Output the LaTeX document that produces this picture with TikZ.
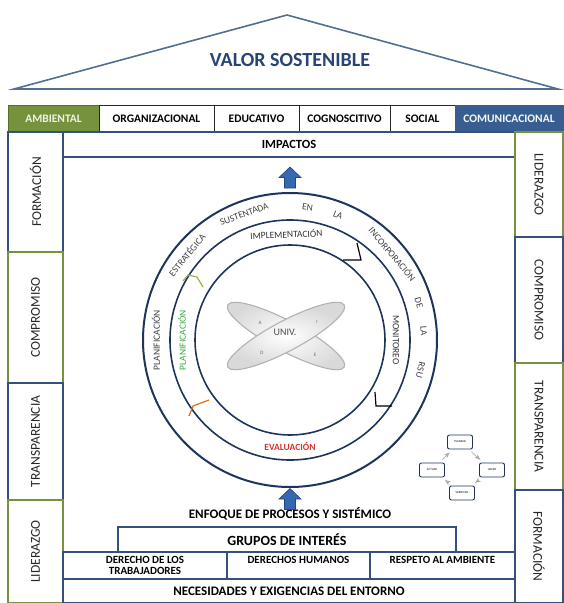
\documentclass[tikz,border=0pt]{standalone}
\usepackage{fontspec}
\setmainfont{Carlito}
\usepackage{xcolor}
\usepackage{tikz}
\usetikzlibrary{positioning}
\usetikzlibrary{arrows.meta}

\definecolor{navy}{RGB}{52,80,124}
\definecolor{olive}{RGB}{118,146,60}
\definecolor{olivedark}{RGB}{88,110,42}
\definecolor{roofblue}{RGB}{82,110,145}
\definecolor{titleblue}{RGB}{40,68,118}
\definecolor{comblue}{RGB}{56,94,145}
\definecolor{ringblue}{RGB}{30,52,92}
\definecolor{arrowblue}{RGB}{52,104,176}
\definecolor{arrowdark}{RGB}{36,70,128}
\definecolor{plangreen}{RGB}{60,165,70}
\definecolor{evalred}{RGB}{215,50,50}
\definecolor{markgreen}{RGB}{150,180,70}
\definecolor{markorange}{RGB}{228,108,10}

\begin{document}
\begin{tikzpicture}[
  x=1pt, y=1pt,
  roof/.style={draw=roofblue, line width=1.6pt, line join=miter},
  catbox/.style={draw=black!85, line width=0.9pt, outer sep=0pt, inner sep=0pt, minimum height=27pt, font=\bfseries\fontsize{11.5}{13}\selectfont},
  colbox/.style={draw=navy, line width=1.2pt, outer sep=0pt, inner sep=0pt, text=black!85, font=\fontsize{13.5}{15}\selectfont},
  strip/.style={draw=navy, line width=1.1pt, outer sep=0pt, inner sep=0pt},
  rowcell/.style={strip, minimum height=27pt, align=center, font=\bfseries\fontsize{11}{11}\selectfont},
  ring/.style={draw=ringblue, line width=1.6pt},
  ringword/.style={font=\fontsize{9.5}{10}\selectfont, text=black!75, inner sep=0pt},
  phase/.style={font=\fontsize{9.5}{10}\selectfont, text=black!80, inner sep=0pt},
  phasemark/.style={line width=1.2pt, line join=miter},
  blade/.style={draw=gray!60, line width=1.1pt, inner color=white, outer color=gray!30},
  pdca/.style={draw=ringblue, line width=0.9pt, rounded corners=2pt, minimum width=25pt, minimum height=14pt, inner sep=0pt, font=\fontsize{3}{3.5}\selectfont},
  cyc/.style={-Stealth, draw=gray!65, line width=0.7pt, shorten >=4pt, shorten <=4pt},
  blockarrow/.style={fill=arrowblue, draw=arrowdark, line width=0.6pt, line join=miter}
]
\useasboundingbox (0,0) rectangle (563,-603);

% Roof
\draw[roof] (14,-89) -- (287,-15) -- (558,-89) -- cycle;
\node[font=\bfseries\fontsize{20}{22}\selectfont, text=titleblue] (valor) at (290,-60) {VALOR SOSTENIBLE};

% Row of dimensions
\node[catbox, fill=olive, draw=olivedark, text=white!88!olive, minimum width=91pt, anchor=north west] (ambiental) at (8,-105) {AMBIENTAL};
\node[catbox, minimum width=115pt, right=0pt of ambiental] (organizacional) {ORGANIZACIONAL};
\node[catbox, minimum width=85pt, right=0pt of organizacional] (educativo) {EDUCATIVO};
\node[catbox, minimum width=91pt, right=0pt of educativo] (cognoscitivo) {COGNOSCITIVO};
\node[catbox, minimum width=65pt, right=0pt of cognoscitivo] (social) {SOCIAL};
\node[catbox, fill=comblue, draw=comblue, text=white!95!comblue, minimum width=108pt, right=0pt of social] (comunicacional) {COMUNICACIONAL};

% Inner house
\node[strip, minimum width=452pt, minimum height=471pt, anchor=north west] (inner) at (63,-132) {};
\node[strip, minimum width=452pt, minimum height=25pt, anchor=north west, font=\bfseries\fontsize{12.5}{14}\selectfont] (impactos) at (63,-132) {IMPACTOS};

% Left pillars
\node[colbox, minimum width=55pt, minimum height=120pt, anchor=north west] (lformacion) at (8,-132) {\rotatebox{90}{FORMACIÓN}};
\node[colbox, draw=olive, minimum width=55pt, minimum height=131pt, below=0pt of lformacion] (lcompromiso) {\rotatebox{90}{COMPROMISO}};
\node[colbox, minimum width=55pt, minimum height=117pt, below=0pt of lcompromiso] (ltransparencia) {\rotatebox{90}{TRANSPARENCIA}};
\node[colbox, draw=olive, minimum width=55pt, minimum height=103pt, below=0pt of ltransparencia] (lliderazgo) {\rotatebox{90}{LIDERAZGO}};

% Right pillars
\node[colbox, draw=olive, minimum width=48pt, minimum height=105pt, anchor=north west] (rliderazgo) at (515,-132) {\rotatebox{-90}{LIDERAZGO}};
\node[colbox, minimum width=48pt, minimum height=126pt, below=0pt of rliderazgo] (rcompromiso) {\rotatebox{-90}{COMPROMISO}};
\node[colbox, draw=olive, minimum width=48pt, minimum height=127pt, below=0pt of rcompromiso] (rtransparencia) {\rotatebox{-90}{TRANSPARENCIA}};
\node[colbox, minimum width=48pt, minimum height=113pt, below=0pt of rtransparencia] (rformacion) {\rotatebox{-90}{FORMACIÓN}};

% Foundation rows
\node[strip, minimum width=452pt, minimum height=24pt, anchor=south west, font=\bfseries\fontsize{13}{15}\selectfont] (necesidades) at (63,-603) {NECESIDADES Y EXIGENCIAS DEL ENTORNO};
\node[rowcell, minimum width=164pt, anchor=south west] (trabajadores) at (necesidades.north west) {DERECHO DE LOS\\TRABAJADORES};
\node[rowcell, minimum width=143pt, text depth=11pt, right=0pt of trabajadores] (humanos) {DERECHOS HUMANOS};
\node[rowcell, minimum width=145pt, text depth=11pt, right=0pt of humanos] (respeto) {RESPETO AL AMBIENTE};
\node[strip, minimum width=338pt, minimum height=25pt, anchor=south west, font=\bfseries\fontsize{14}{16}\selectfont] (grupos) at (118,-552) {GRUPOS DE INTERÉS};
\node[font=\bfseries\fontsize{13}{15}\selectfont] (enfoque) at (290,-514) {ENFOQUE DE PROCESOS Y SISTÉMICO};

% Block arrows (up)
\filldraw[blockarrow, shift={(290,-177.5)}] (-5.5,-10.5) -- (-5.5,0) -- (-11,0) -- (0,10.5) -- (11,0) -- (5.5,0) -- (5.5,-10.5) -- cycle;
\filldraw[blockarrow, shift={(290,-499)}] (-5.5,-10.5) -- (-5.5,0) -- (-11,0) -- (0,10.5) -- (11,0) -- (5.5,0) -- (5.5,-10.5) -- cycle;

% Cycle rings
\begin{scope}[shift={(290,-340)}]
  \draw[ring, line width=2pt] (0,0) circle[radius=147pt];
  \draw[ring] (0,0) circle[radius=120pt];
  \draw[ring] (0,0) circle[radius=95pt];

  % Outer band words
  \node[ringword, rotate=90] (wplanif) at (180:134) {PLANIFICACIÓN};
  \node[ringword, rotate=50.5] (westrat) at (140.5:134) {ESTRATÉGICA};
  \node[ringword, rotate=20] (wsusten) at (110:134) {SUSTENTADA};
  \node[ringword, rotate=-7.5] (wen) at (82.5:134) {EN};
  \node[ringword, rotate=-21] (wla) at (69:134) {LA};
  \node[ringword, rotate=-50] (wincorp) at (40:134) {INCORPORACIÓN};
  \node[ringword, rotate=-74] (wde) at (16:134) {DE};
  \node[ringword, rotate=-86] (wlarsu) at (4:134) {LA};
  \node[ringword, rotate=-103] (wrsu) at (-13:134) {RSU};

  % Inner band phases
  \node[phase, rotate=2] (implementacion) at (92:106) {IMPLEMENTACIÓN};
  \node[phase, rotate=90, text=plangreen] (planificacion) at (180:108) {PLANIFICACIÓN};
  \node[phase, rotate=-90] (monitoreo) at (0:106) {MONITOREO};
  \node[phase, text=evalred, font=\bfseries\fontsize{9.5}{10}\selectfont] (evaluacion) at (-90:107) {EVALUACIÓN};
\end{scope}

% Phase marks
\draw[phasemark, draw=markgreen] (183,-281) -- (188,-275) -- (197,-277) -- (203,-287);
\draw[phasemark, draw=markorange] (189,-416) -- (193,-406) -- (209,-400);
\draw[phasemark, draw=black] (343,-260) -- (361,-260) -- (357,-243);
\draw[phasemark, draw=black] (375,-392) -- (376,-406) -- (392,-406);

% University core
\shadedraw[blade, rotate around={-28:(286,-336)}] (286,-336) ellipse[x radius=66pt, y radius=15pt];
\shadedraw[blade, rotate around={28:(286,-336)}] (286,-336) ellipse[x radius=66pt, y radius=15pt];
\node[font=\fontsize{10}{12}\selectfont, text=black!70] (univ) at (285,-332) {UNIV.};
\node[font=\fontsize{5}{6}\selectfont, text=black!60] (la) at (260,-323) {A};
\node[font=\fontsize{5}{6}\selectfont, text=black!60] (li) at (317,-322) {I};
\node[font=\fontsize{5}{6}\selectfont, text=black!60] (ld) at (262,-353) {D};
\node[font=\fontsize{5}{6}\selectfont, text=black!60] (le) at (315,-355) {E};

% PDCA cycle
\node[pdca] (planear) at (460,-442) {PLANEAR};
\node[pdca] (hacer) at (492,-470) {HACER};
\node[pdca] (verificar) at (462,-493) {VERIFICAR};
\node[pdca] (actuar) at (432,-470) {ACTUAR};
\draw[cyc] (actuar) -- (planear);
\draw[cyc] (planear) -- (hacer);
\draw[cyc] (hacer) -- (verificar);
\draw[cyc] (verificar) -- (actuar);

\end{tikzpicture}
\end{document}
